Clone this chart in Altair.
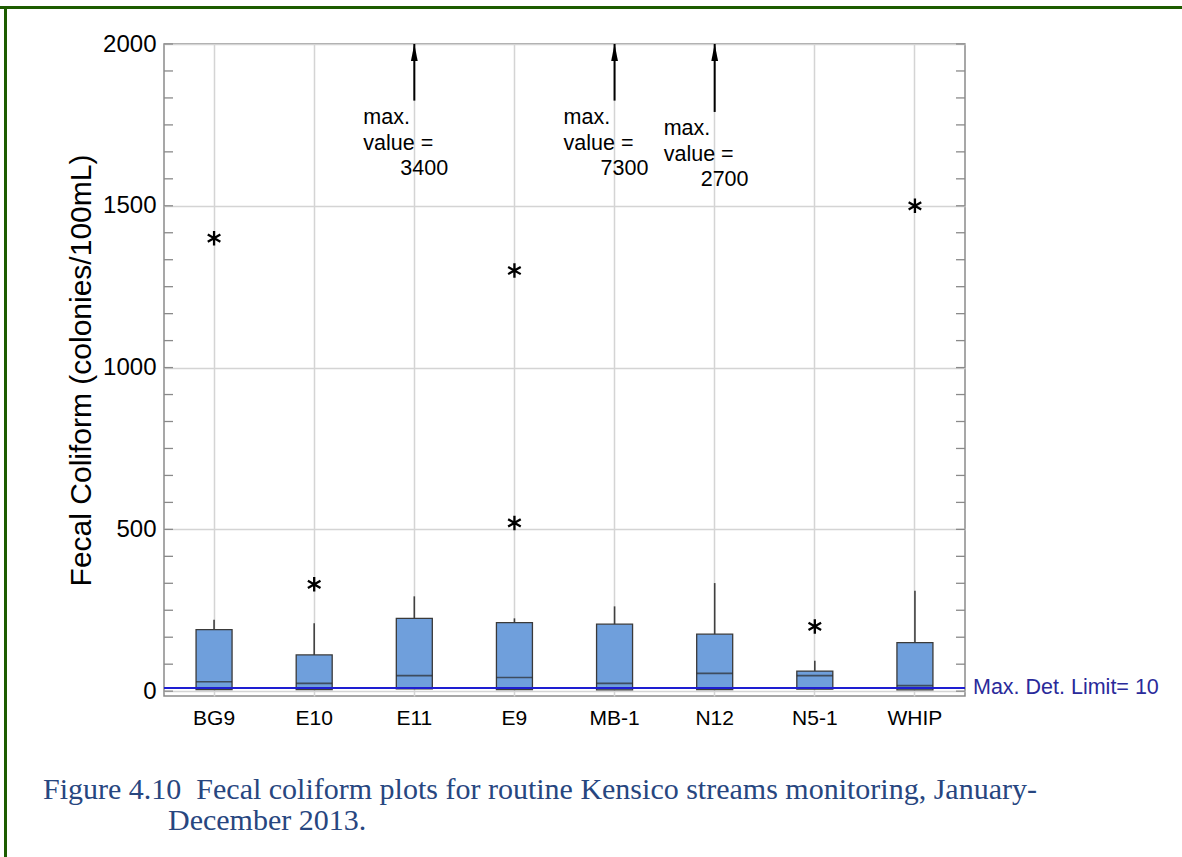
import altair as alt
import pandas as pd

# Box-plot summary per monitoring station (colonies/100mL)
stations = ["BG9", "E10", "E11", "E9", "MB-1", "N12", "N5-1", "WHIP"]
q1 = [5, 5, 7, 5, 4, 5, 6, 4]
medians = [29, 24, 48, 42, 24, 55, 48, 17]
q3 = [190, 112, 225, 212, 207, 176, 62, 150]
upper_whisker = [221, 210, 293, 225, 262, 334, 94, 310]

# Outliers drawn as asterisks
outlier_station = ["BG9", "E10", "E9", "E9", "N5-1", "WHIP"]
outlier_value = [1400, 330, 1300, 520, 200, 1500]

# Maxima beyond the axis, flagged with arrows
offscale_station = ["E11", "MB-1", "N12"]
offscale_max = [3400, 7300, 2700]
arrow_tail = [1825, 1825, 1790]

detection_limit = 10
y_major = [0, 500, 1000, 1500, 2000]
y_minor = [i * 500 / 6 for i in range(0, 25)]

W, H = 801, 652
SANS = "Liberation Sans"
SERIF = "Liberation Serif"

boxes = pd.DataFrame({"station": stations, "q1": q1, "median": medians,
                      "q3": q3, "hi": upper_whisker})
outliers = pd.DataFrame({"station": outlier_station, "value": outlier_value})
offscale = pd.DataFrame({"station": offscale_station, "max": offscale_max,
                         "tail": arrow_tail, "top": [2000] * 3,
                         "label": [str(v) for v in offscale_max]})
minor = pd.DataFrame({"v": y_minor})
one = pd.DataFrame({"k": [0]})

yscale = alt.Scale(domain=[-15, 2000], nice=False, zero=False)
yaxis = alt.Axis(values=y_major, format="d",
                 title="Fecal Coliform (colonies/100mL)",
                 titleFont=SANS, titleFontSize=30, titleFontWeight="normal",
                 titleColor="black", titlePadding=6,
                 labelFont=SANS, labelFontSize=24, labelColor="black",
                 labelPadding=8, ticks=False, domain=False,
                 grid=True, gridColor="#d4d4d4", gridWidth=1.5)
xaxis = alt.Axis(title=None, labelAngle=0, labelFont=SANS, labelFontSize=21,
                 labelColor="black", labelPadding=11, ticks=False,
                 domain=False, grid=True, gridColor="#d4d4d4", gridWidth=1.5,
                 bandPosition=0.5)
xenc = alt.X("station:N", scale=alt.Scale(domain=stations, paddingInner=0,
                                          paddingOuter=0), axis=xaxis)

def Y(field):
    return alt.Y(field, scale=yscale, axis=yaxis)

# inward minor ticks on both frame sides
ticks_left = alt.Chart(minor).mark_rule(color="#8a8a8a", strokeWidth=1.3).encode(
    y=Y("v:Q"), x=alt.value(0), x2=alt.value(9))
ticks_right = alt.Chart(minor).mark_rule(color="#8a8a8a", strokeWidth=1.3).encode(
    y=Y("v:Q"), x=alt.value(W - 9), x2=alt.value(W))

whisker = alt.Chart(boxes).mark_rule(color="#404040", strokeWidth=1.6).encode(
    x=xenc, y=Y("q3:Q"), y2="hi:Q")
box = alt.Chart(boxes).mark_bar(size=36, color="#6f9fdc", stroke="#3a3a3a",
                                strokeWidth=1.3).encode(
    x=xenc, y=Y("q1:Q"), y2="q3:Q")
median = alt.Chart(boxes).mark_tick(orient="horizontal", size=36, thickness=1.6,
                                    color="#2a2a2a").encode(
    x=xenc, y=Y("median:Q"))

asterisk = "M0,-1L0,1M-0.87,-0.5L0.87,0.5M-0.87,0.5L0.87,-0.5"
outlier_pts = alt.Chart(outliers).mark_point(shape=asterisk, size=210, filled=False,
                                             color="black", strokeWidth=2.3,
                                             opacity=1).encode(
    x=xenc, y=Y("value:Q"))

arrow_shaft = alt.Chart(offscale).mark_rule(color="black", strokeWidth=2).encode(
    x=xenc, y=Y("tail:Q"), y2="top:Q")
arrow_head = alt.Chart(offscale).mark_point(shape="M0,-1L0.4,1L-0.4,1Z", size=290,
                                            filled=True, color="black", opacity=1,
                                            yOffset=8.5).encode(
    x=xenc, y=Y("top:Q"))
arrow_words = alt.Chart(offscale).mark_text(text="max.\nvalue =", lineBreak="\n",
                                            lineHeight=26, align="left",
                                            baseline="top", dx=-51, dy=6,
                                            font=SANS, fontSize=21.5,
                                            color="black").encode(
    x=xenc, y=Y("tail:Q"))
arrow_numbers = alt.Chart(offscale).mark_text(align="left", baseline="top",
                                              dx=-14, dy=57, font=SANS,
                                              fontSize=21.5, color="black").encode(
    x=xenc, y=Y("tail:Q"), text="label:N")

limit_df = pd.DataFrame({"v": [detection_limit],
                         "label": [f"Max. Det. Limit= {detection_limit}"]})
limit_line = alt.Chart(limit_df).mark_rule(color="#1e1ed2", strokeWidth=2).encode(
    y=Y("v:Q"), x=alt.value(0), x2=alt.value(W))
limit_text = alt.Chart(limit_df).mark_text(align="left", baseline="middle",
                                           font=SANS, fontSize=21.5,
                                           color="#2a2a9a").encode(
    y=Y("v:Q"), x=alt.value(W + 8), text="label:N")

caption_color = "#27467f"
caption1 = alt.Chart(one).mark_text(
    text="Figure 4.10\u00a0 Fecal coliform plots for routine Kensico streams monitoring, January-",
    align="left", baseline="middle", font=SERIF, fontSize=30,
    color=caption_color).encode(x=alt.value(-121), y=alt.value(746))
caption2 = alt.Chart(one).mark_text(
    text="December 2013.", align="left", baseline="middle", font=SERIF,
    fontSize=30, color=caption_color).encode(x=alt.value(4), y=alt.value(777))

border_top = alt.Chart(one).mark_rule(color="#1d5c00", strokeWidth=3).encode(
    x=alt.value(-164), x2=alt.value(W + 217), y=alt.value(-36.5))
border_left = alt.Chart(one).mark_rule(color="#1d5c00", strokeWidth=3).encode(
    x=alt.value(-158.5), y=alt.value(-38), y2=alt.value(H + 161))

chart = alt.layer(
    ticks_left, ticks_right, whisker, box, median, outlier_pts,
    arrow_shaft, arrow_head, arrow_words, arrow_numbers,
    limit_line, limit_text, caption1, caption2, border_top, border_left,
).properties(
    width=W, height=H,
    autosize=alt.AutoSizeParams(type="none"),
    padding={"left": 164, "top": 44, "right": 217, "bottom": 161},
    background="white",
).configure_view(stroke="#8a8a8a", strokeWidth=1.5)

chart.save("out.html", embed_options={"renderer": "svg", "actions": False})
